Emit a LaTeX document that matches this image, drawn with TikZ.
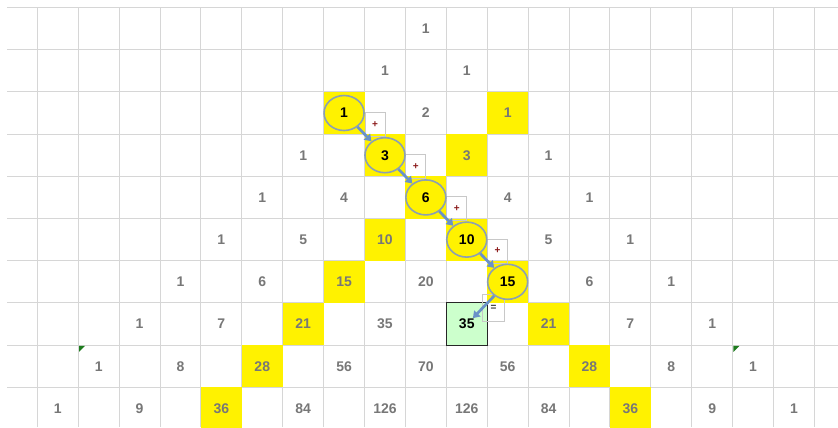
\documentclass[tikz,border=0pt]{standalone}
\usepackage{fontspec}
\setmainfont{Liberation Sans}
\usepackage{xcolor,tikz}
\usetikzlibrary{shapes.geometric,arrows.meta}

\definecolor{gridgray}{HTML}{D6D6D6}
\definecolor{numgray}{HTML}{777777}
\definecolor{sumgreen}{HTML}{CCFFCC}
\definecolor{ringblue}{HTML}{8CA0B3}
\definecolor{arrowblue}{HTML}{6A92C8}
\definecolor{taggray}{HTML}{C8C8C8}
\definecolor{plusred}{HTML}{8B1A1A}
\definecolor{markgreen}{HTML}{1E7B1E}

\begin{document}
\begin{tikzpicture}[x=40.9pt,y=42.2pt,
    gridline/.style={draw=gridgray,line width=1pt},
    num/.style={text=numgray,font=\fontsize{14}{14}\selectfont\bfseries,inner sep=1pt},
    ring/.style={ellipse,draw=ringblue,line width=1.6pt,fill=yellow,text=black,
      minimum width=40pt,minimum height=35pt,inner sep=0pt,
      font=\fontsize{14}{14}\selectfont\bfseries},
    tag/.style={draw=taggray,line width=0.9pt,minimum width=20pt,minimum height=24pt,
      inner sep=0pt,font=\fontsize{10}{10}\selectfont\bfseries,text=plusred},
    addarrow/.style={arrowblue,line width=2.7pt,-{Triangle[length=6.5pt,width=8.5pt]}}]
\useasboundingbox (-0.912,0.178) rectangle (19.577,-9.941);
% sheet grid
\foreach \y in {0,...,9}
  \draw[gridline] (-0.74,-\y) -- (19.577,-\y);
\foreach \x in {0,...,19}
  \draw[gridline] (\x,0) -- (\x,-9.941);
% the two yellow diagonals
\foreach \r/\c in {2/7,3/8,4/9,5/10,6/11,7/12,8/13,9/14,2/11,3/10,5/8,6/7,7/6,8/5,9/4}
  \fill[yellow] (\c,-\r) rectangle ++(1,-1);
\draw[fill=sumgreen,draw=black!85,line width=1.1pt] (10,-7) rectangle (11,-8);
\fill[markgreen] (1,-8) ++(0.8pt,-0.8pt) -- ++(6pt,0) -- ++(-6pt,-6pt) -- cycle;
\fill[markgreen] (17,-8) ++(0.8pt,-0.8pt) -- ++(6pt,0) -- ++(-6pt,-6pt) -- cycle;
% small + boxes
\foreach \r/\c in {2/7,3/8,4/9,5/10}
  \node[tag,anchor=north west] (tag-\r) at (\c+1,-\r-.476) {+};
\node[tag,text=black!80,minimum width=22pt,minimum height=27pt,anchor=north west] (tag-eq) at (10.873,-6.789) {=};
% pascal rows
\foreach \c/\v in {9/1}
  \node[num] (p-0-\c) at (\c+.5,-0.5) {\v};
\foreach \c/\v in {8/1,10/1}
  \node[num] (p-1-\c) at (\c+.5,-1.5) {\v};
\foreach \c/\v in {9/2,11/1}
  \node[num] (p-2-\c) at (\c+.5,-2.5) {\v};
\foreach \c/\v in {6/1,10/3,12/1}
  \node[num] (p-3-\c) at (\c+.5,-3.5) {\v};
\foreach \c/\v in {5/1,7/4,11/4,13/1}
  \node[num] (p-4-\c) at (\c+.5,-4.5) {\v};
\foreach \c/\v in {4/1,6/5,8/10,12/5,14/1}
  \node[num] (p-5-\c) at (\c+.5,-5.5) {\v};
\foreach \c/\v in {3/1,5/6,7/15,9/20,13/6,15/1}
  \node[num] (p-6-\c) at (\c+.5,-6.5) {\v};
\foreach \c/\v in {2/1,4/7,6/21,8/35,12/21,14/7,16/1}
  \node[num] (p-7-\c) at (\c+.5,-7.5) {\v};
\foreach \c/\v in {1/1,3/8,5/28,7/56,9/70,11/56,13/28,15/8,17/1}
  \node[num] (p-8-\c) at (\c+.5,-8.5) {\v};
\foreach \c/\v in {0/1,2/9,4/36,6/84,8/126,10/126,12/84,14/36,16/9,18/1}
  \node[num] (p-9-\c) at (\c+.5,-9.5) {\v};
\node[num,text=black] (p-7-10) at (10.5,-7.5) {35};
% hockey stick
\foreach \r/\c/\v in {2/7/1,3/8/3,4/9/6,5/10/10,6/11/15}
  \node[ring] (p-\r-\c) at (\c+.5,-\r-.5) {\v};
\foreach \r/\c/\rn/\cn in {2/7/3/8,3/8/4/9,4/9/5/10,5/10/6/11}
  \draw[addarrow] (p-\r-\c) -- (p-\rn-\cn);
\coordinate (sumtip) at (10.65,-7.36);
\draw[addarrow] (p-6-11) -- (sumtip);
\end{tikzpicture}
\end{document}
